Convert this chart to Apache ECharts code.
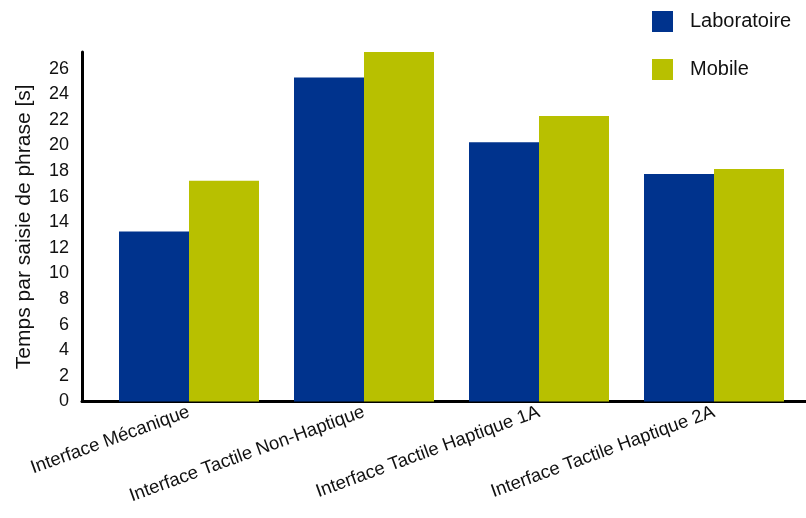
<!DOCTYPE html>
<html>
<head>
<meta charset="utf-8">
<script src="https://cdn.jsdelivr.net/npm/echarts@6/dist/echarts.min.js"></script>
<style>
html,body{margin:0;padding:0;background:#fff;}
#chart{width:806px;height:518px;}
</style>
</head>
<body>
<div id="chart"></div>
<script>
const categories = ['Interface Mécanique', 'Interface Tactile Non-Haptique', 'Interface Tactile Haptique 1A', 'Interface Tactile Haptique 2A'];
const laboratoire = [13.27, 25.3, 20.25, 17.77];
const mobile = [17.25, 27.3, 22.3, 18.16];
const seriesNames = ['Laboratoire', 'Mobile'];
const yMin = 0, yMax = 27.3, yStep = 2;
const yTitle = 'Temps par saisie de phrase [s]';

const FONT = '"Liberation Sans", Arial, Helvetica, sans-serif';
const chart = echarts.init(document.getElementById('chart'), null, {renderer: 'canvas'});
chart.setOption({
  animation: false,
  backgroundColor: '#ffffff',
  textStyle: {fontFamily: FONT},
  legend: {
    data: seriesNames,
    orient: 'vertical',
    left: 647, top: 6,
    icon: 'rect', itemWidth: 21, itemHeight: 21, itemGap: 27,
    textStyle: {fontSize: 20, color: '#111', fontFamily: FONT, padding: [0, 0, 0, 12]}
  },
  grid: [
    {left: 82, right: 0, top: 52, height: 349.5},
    {left: 101.5, width: 700, top: 52, height: 349.5}
  ],
  xAxis: [
    {type: 'value', gridIndex: 0, min: 0, max: 1,
     axisLine: {show: true, lineStyle: {color: '#000', width: 3}},
     axisTick: {show: false}, axisLabel: {show: false}, splitLine: {show: false}},
    {type: 'category', gridIndex: 1, data: categories,
     axisLine: {show: false}, axisTick: {show: false}, splitLine: {show: false},
     axisLabel: {rotate: 20, margin: 10, fontSize: 18.5, color: '#111', fontFamily: FONT, interval: 0}}
  ],
  yAxis: [
    {type: 'value', gridIndex: 0, min: yMin, max: yMax, interval: yStep,
     axisLine: {show: true, lineStyle: {color: '#000', width: 3}},
     axisTick: {show: false}, splitLine: {show: false},
     axisLabel: {fontSize: 18, color: '#111', margin: 13, fontFamily: FONT, showMaxLabel: false},
     name: yTitle, nameLocation: 'middle', nameRotate: 90, nameGap: 47,
     nameTextStyle: {fontSize: 21, color: '#111', fontFamily: FONT}},
    {type: 'value', gridIndex: 1, min: yMin, max: yMax, show: false, splitLine: {show: false}}
  ],
  series: [
    {name: seriesNames[0], type: 'bar', xAxisIndex: 1, yAxisIndex: 1, data: laboratoire,
     itemStyle: {color: '#00338D'}, barGap: '0%', barCategoryGap: '20%'},
    {name: seriesNames[1], type: 'bar', xAxisIndex: 1, yAxisIndex: 1, data: mobile,
     itemStyle: {color: '#B8C000'}, barGap: '0%', barCategoryGap: '20%'}
  ]
});
</script>
</body>
</html>
